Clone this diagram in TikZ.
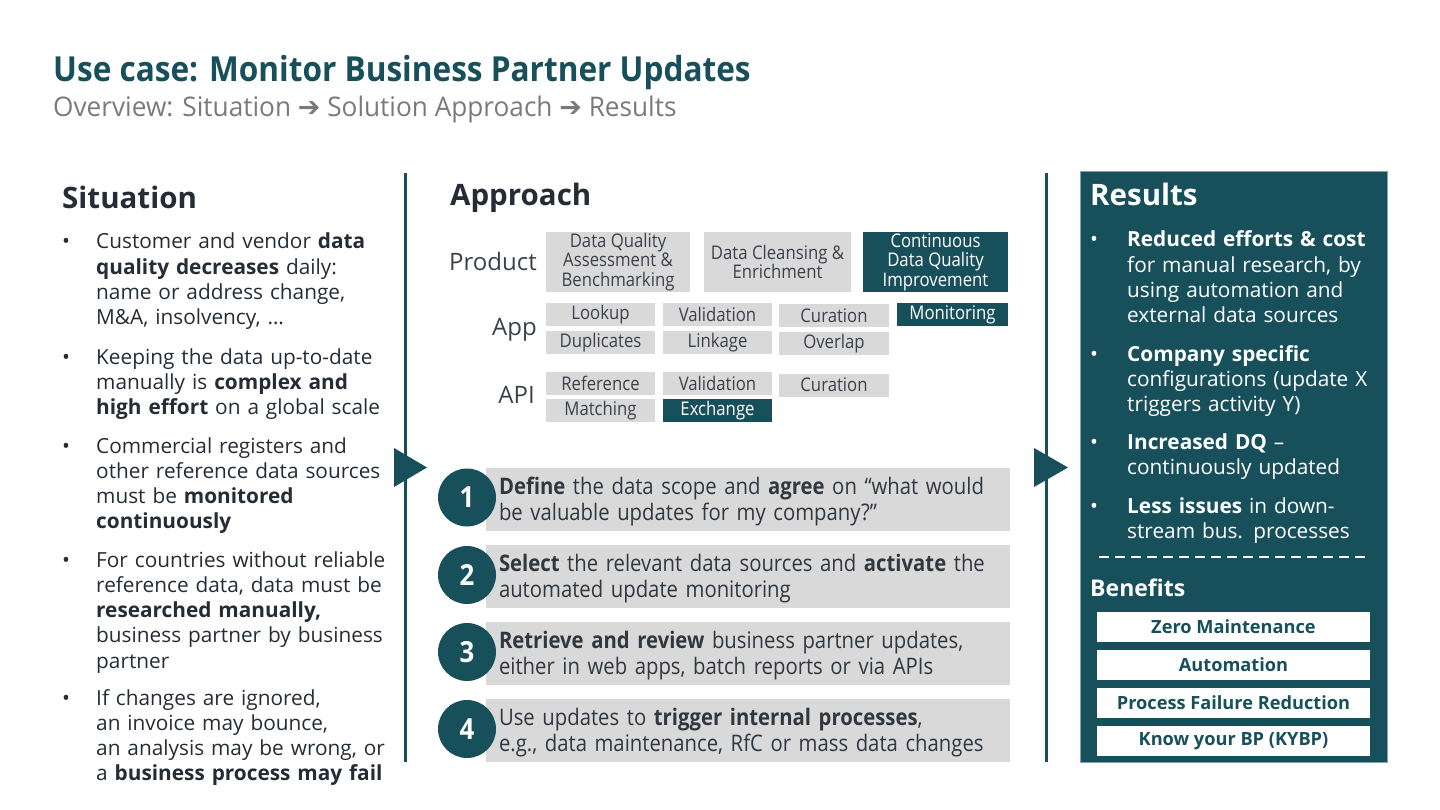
\documentclass[tikz,border=0pt]{standalone}
\usepackage{fontspec}
\setmainfont{Open Sans}
\newfontfamily\cond[FakeStretch=0.89]{Open Sans}
\newfontfamily\subf[FakeStretch=0.97]{Open Sans}
\newfontfamily\titlef[FakeStretch=0.915]{Open Sans}
\newfontfamily\arrowf{DejaVu Sans}
\definecolor{tl}{HTML}{17505B}
\definecolor{tlb}{HTML}{7FA3AA}
\definecolor{gr}{HTML}{D9D9D9}
\definecolor{dk}{HTML}{262C35}
\definecolor{sub}{HTML}{7A7A7A}
\begin{document}
\begin{tikzpicture}[x=1pt,y=-1pt,
  txt/.style={anchor=base west,inner sep=0pt,align=left,text=dk,text width=#1,font=\fontsize{20.8}{25.3}\selectfont},
  txt/.default=300,
  wtxt/.style={txt=#1,text=white},
  wtxt/.default=260,
  dot/.style={anchor=base,inner sep=0pt,font=\fontsize{21}{25.3}\selectfont},
  head/.style={anchor=base west,inner sep=0pt,text=dk,font=\bfseries\fontsize{29.5}{33}\selectfont},
  lbl/.style={anchor=base east,inner sep=0pt,text=dk!90,font=\fontsize{24}{28}\selectfont},
  gbox/.style={fill=gr,inner sep=0pt,text=dk!90,align=center,font=\cond\fontsize{18.8}{19.5}\selectfont},
  tbox/.style={gbox,fill=tl,text=white},
  stepbox/.style={fill=gr,inner sep=0pt,minimum width=524,minimum height=63},
  steptxt/.style={anchor=west,inner sep=0pt,align=left,text width=510,text=dk!95,font=\cond\fontsize{22.8}{25.5}\selectfont},
  circ/.style={circle,fill=tl,inner sep=0pt,minimum size=58,text=white,font=\cond\bfseries\fontsize{29}{32}\selectfont},
  bbox/.style={fill=white,inner sep=0pt,minimum width=273,minimum height=30,text=tl,font=\bfseries\fontsize{18.2}{21}\selectfont}
]
\useasboundingbox (0,0) rectangle (1440,810);

% title
\node[anchor=base west,inner sep=0pt,text=tl,font=\titlef\bfseries\fontsize{34.5}{40}\selectfont] (title) at (53,82) {Use case: Monitor Business Partner Updates};
\node[anchor=base west,inner sep=0pt,text=sub,font=\subf\fontsize{27}{30}\selectfont] (subtitle) at (53,117) {Overview: Situation {\arrowf\fontsize{27}{30}\selectfont ➔} Solution Approach {\arrowf\fontsize{27}{30}\selectfont ➔} Results};

% separators
\draw[tl,line width=3] (405,173) -- (405,762);
\draw[tl,line width=3] (1046,173) -- (1046,762);
\fill[tl] (394,448) -- (427,467.5) -- (394,487) -- cycle;
\fill[tl] (1034,448) -- (1068,467.5) -- (1034,487) -- cycle;

% Situation
\node[head] (sith) at (62,209) {Situation};
\foreach \y in {249,364,453,567,705} \node[dot,text=dk] at (66,\y) {•};
\node[txt] (s1) at (96,249) {Customer and vendor \textbf{data}\\ \textbf{quality decreases} daily:\\ name or address change,\\ M\&A, insolvency, …};
\node[txt] (s2) at (96,364) {Keeping the data up-to-date\\ manually is \textbf{complex and}\\ \textbf{high effort} on a global scale};
\node[txt] (s3) at (96,453) {Commercial registers and\\ other reference data sources\\ must be \textbf{monitored}\\ \textbf{continuously}};
\node[txt] (s4) at (96,567) {For countries without reliable\\ reference data, data must be\\ \textbf{researched manually,}\\ business partner by business\\ partner};
\node[txt] (s5) at (96,705) {If changes are ignored,\\ an invoice may bounce,\\ an analysis may be wrong, or\\ a \textbf{business process may fail}};

% Approach
\node[head] (apph) at (450,206) {Approach};
\node[lbl] (lprod) at (537,271) {Product};
\node[lbl] (lapp) at (537,335) {App};
\node[lbl] (lapi) at (535,403) {API};

\node[gbox,minimum width=144,minimum height=60] (p1) at (618,262) {Data Quality\\ Assessment \&\\ Benchmarking};
\node[gbox,minimum width=147,minimum height=60] (p2) at (777.5,262) {Data Cleansing \&\\ Enrichment};
\node[tbox,minimum width=145,minimum height=60] (p3) at (935.5,262) {Continuous\\ Data Quality\\ Improvement};

\node[gbox,minimum width=109,minimum height=23] (a1) at (600.5,314.5) {Lookup};
\node[gbox,minimum width=109,minimum height=23] (a2) at (717.5,314.5) {Validation};
\node[gbox,minimum width=110,minimum height=23] (a3) at (834,315.5) {Curation};
\node[tbox,minimum width=111,minimum height=23] (a4) at (952.5,314.5) {Monitoring};
\node[gbox,minimum width=109,minimum height=23] (a5) at (600.5,342.5) {Duplicates};
\node[gbox,minimum width=109,minimum height=23] (a6) at (717.5,342.5) {Linkage};
\node[gbox,minimum width=110,minimum height=23] (a7) at (834,343.5) {Overlap};

\node[gbox,minimum width=109,minimum height=23] (i1) at (600.5,383.5) {Reference};
\node[gbox,minimum width=109,minimum height=23] (i2) at (717.5,383.5) {Validation};
\node[gbox,minimum width=110,minimum height=23] (i3) at (834,385) {Curation};
\node[gbox,minimum width=109,minimum height=23] (i4) at (600.5,410.5) {Matching};
\node[tbox,minimum width=109,minimum height=23] (i5) at (717.5,410.5) {Exchange};

% Steps
\node[stepbox] (b1) at (748,499.5) {};
\node[stepbox] (b2) at (748,576.5) {};
\node[stepbox] (b3) at (748,653.5) {};
\node[stepbox] (b4) at (748,730.5) {};
\node[circ] (c1) at (467,497.5) {1};
\node[circ] (c2) at (467,575) {2};
\node[circ] (c3) at (467,652) {3};
\node[circ] (c4) at (467,729) {4};
\node[steptxt] (t1) at ([xshift=13pt,yshift=-2pt]b1.west) {\textbf{Define} the data scope and \textbf{agree} on “what would\\ be valuable updates for my company?”};
\node[steptxt] (t2) at ([xshift=13pt,yshift=-2pt]b2.west) {\textbf{Select} the relevant data sources and \textbf{activate} the\\ automated update monitoring};
\node[steptxt] (t3) at ([xshift=13pt,yshift=-2pt]b3.west) {\textbf{Retrieve and review} business partner updates,\\ either in web apps, batch reports or via APIs};
\node[steptxt] (t4) at ([xshift=13pt,yshift=-2pt]b4.west) {Use updates to \textbf{trigger internal processes},\\ e.g., data maintenance, RfC or mass data changes};

% Results
\path[fill=tl,draw=tlb,line width=1] (1080,172) rectangle (1387,762);
\node[head,text=white] (resh) at (1090,206) {Results};
\foreach \y in {247,361,449,513} \node[dot,text=white] at (1094,\y) {•};
\node[wtxt] (r1) at (1127,247) {\textbf{Reduced efforts \& cost}\\ for manual research, by\\ using automation and\\ external data sources};
\node[wtxt] (r2) at (1127,361) {\textbf{Company specific}\\ configurations (update X\\ triggers activity Y)};
\node[wtxt] (r3) at (1127,449) {\textbf{Increased DQ} –\\ continuously updated};
\node[wtxt] (r4) at (1127,513) {\textbf{Less issues} in down-\\ stream bus. processes};
\draw[white,line width=1.6,dash pattern=on 10pt off 6pt] (1099,557) -- (1370,557);
\node[head,text=white,font=\bfseries\fontsize{23}{27}\selectfont] (benh) at (1090,596) {Benefits};
\node[bbox] (e1) at (1233.5,627) {Zero Maintenance};
\node[bbox] (e2) at (1233.5,665) {Automation};
\node[bbox] (e3) at (1233.5,703) {Process Failure Reduction};
\node[bbox] (e4) at (1233.5,741) {Know your BP (KYBP)};
\end{tikzpicture}
\end{document}
